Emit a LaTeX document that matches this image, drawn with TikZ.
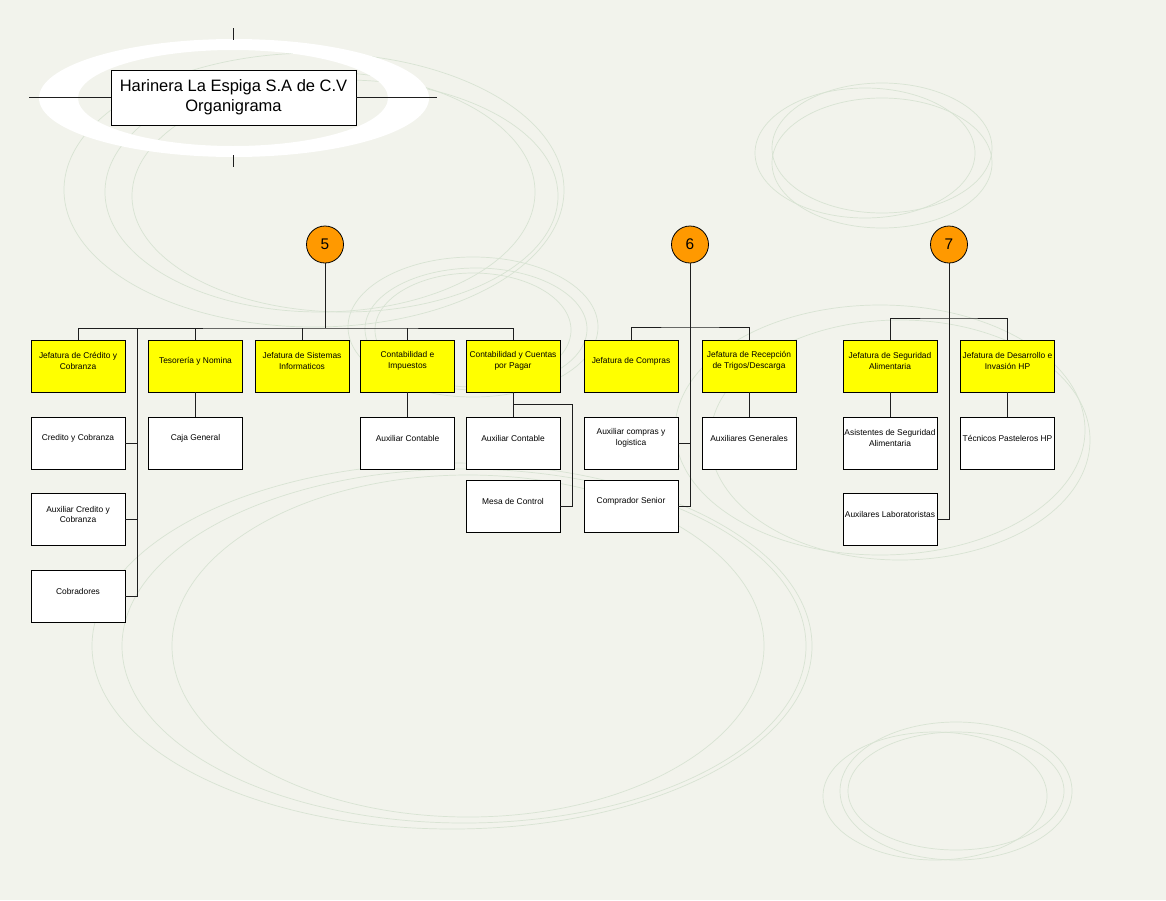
\documentclass[tikz,border=0pt]{standalone}
\usepackage{fontspec}
\setmainfont{Liberation Sans}
\definecolor{bgc}{HTML}{F2F3EC}
\definecolor{ringc}{HTML}{D8E3D3}
\definecolor{jefec}{HTML}{FFFF00}
\definecolor{numc}{HTML}{FF9900}
\definecolor{connc}{HTML}{1E1E1E}
\begin{document}
\begin{tikzpicture}[x=1pt,y=-1pt,
  box/.style={draw=black, line width=0.8pt, minimum width=94pt, minimum height=52pt, inner sep=0pt, fill=white},
  jefe/.style={box, fill=jefec},
  txt/.style={font=\fontsize{8.4}{10.6}\selectfont, align=center, inner sep=0pt, yshift=5pt},
  num/.style={circle, draw=black, line width=0.8pt, fill=numc, minimum size=37pt, inner sep=0pt, font=\fontsize{15.4}{18}\selectfont},
  conn/.style={draw=connc, line width=0.8pt},
  bgl/.style={draw=ringc, line width=0.7pt}]
\fill[bgc] (0,0) rectangle (1166,900);
\useasboundingbox (0,0) rectangle (1166,900);
% background ellipses
\draw[bgl] (314,190) ellipse [x radius=250pt, y radius=137pt];
\draw[bgl] (320,192) ellipse [x radius=215pt, y radius=120pt];
\draw[bgl] (345,196) ellipse [x radius=213pt, y radius=116pt];
\draw[bgl] (473,327) ellipse [x radius=125pt, y radius=70pt];
\draw[bgl] (476,329) ellipse [x radius=111pt, y radius=61pt];
\draw[bgl] (473,330) ellipse [x radius=98pt, y radius=57pt];
\draw[bgl] (865,153) ellipse [x radius=110pt, y radius=65pt];
\draw[bgl] (882,148) ellipse [x radius=110pt, y radius=65pt];
\draw[bgl] (882,163) ellipse [x radius=110pt, y radius=65pt];
\draw[bgl] (452,646) ellipse [x radius=360pt, y radius=183pt];
\draw[bgl] (464,646) ellipse [x radius=342pt, y radius=177pt];
\draw[bgl] (468,646) ellipse [x radius=296pt, y radius=171pt];
\draw[bgl] (880,430) ellipse [x radius=205pt, y radius=125pt];
\draw[bgl] (900,440) ellipse [x radius=190pt, y radius=120pt];
\draw[bgl] (935,796) ellipse [x radius=112pt, y radius=64pt];
\draw[bgl] (956,791) ellipse [x radius=116pt, y radius=69pt];
\draw[bgl] (956,791) ellipse [x radius=108pt, y radius=59pt];
% white ring behind title
\fill[white, even odd rule] (234,98) ellipse [x radius=195pt, y radius=59pt] (233,98) ellipse [x radius=155pt, y radius=48pt];
% title
\node[draw=black, line width=0.8pt, fill=white, minimum width=245pt, minimum height=55pt, inner sep=0pt,
  font=\fontsize{16.5}{20}\selectfont, align=center] (title) at (233.5,97.5) {Harinera La Espiga S.A de C.V\\Organigrama};
\coordinate (tl) at (29,97.5);
\coordinate (tr) at (437,97.5);
\coordinate (tt1) at (233.5,28);
\coordinate (tt2) at (233.5,40);
\coordinate (tb1) at (233.5,155);
\coordinate (tb2) at (233.5,167);
\draw[conn] (tl) -- (title.west);
\draw[conn] (title.east) -- (tr);
\draw[conn] (tt1) -- (tt2);
\draw[conn] (tb1) -- (tb2);
% number circles
\node[num] (n5) at (325,244.5) {5};
\node[num] (n6) at (690,244.5) {6};
\node[num] (n7) at (949,244.5) {7};
% group 5
\node[jefe, label={[txt]center:{Jefatura de Crédito y\\Cobranza}}] (j1) at (78,366) {};
\node[jefe, label={[txt]center:{Tesorería y Nomina}}] (j2) at (195.5,366) {};
\node[jefe, label={[txt]center:{Jefatura de Sistemas\\Informaticos}}] (j3) at (302,366) {};
\node[jefe, label={[txt]center:{Contabilidad e\\Impuestos}}] (j4) at (407.5,366) {};
\node[jefe, label={[txt]center:{Contabilidad y Cuentas\\por Pagar}}] (j5) at (513,366) {};
\node[box, label={[txt]center:{Credito y Cobranza}}] (cyc) at (78,443) {};
\node[box, label={[txt]center:{Auxiliar Credito y\\Cobranza}}] (acc) at (78,519.5) {};
\node[box, label={[txt]center:{Cobradores}}] (cob) at (78,596) {};
\node[box, label={[txt]center:{Caja General}}] (cg) at (195.5,443) {};
\node[box, label={[txt]center:{Auxiliar Contable}}] (ac1) at (407.5,443) {};
\node[box, label={[txt]center:{Auxiliar Contable}}] (ac2) at (513,443) {};
\node[box, label={[txt]center:{Mesa de Control}}] (mc) at (513,506.5) {};
% group 6
\node[jefe, label={[txt]center:{Jefatura de Compras}}] (j6) at (631,366) {};
\node[jefe, label={[txt]center:{Jefatura de Recepción\\de Trigos/Descarga}}] (j7) at (749,366) {};
\node[box, label={[txt]center:{Auxiliar compras y\\logistica}}] (acl) at (631,443) {};
\node[box, label={[txt]center:{Comprador Senior}}] (cs) at (631,506.5) {};
\node[box, label={[txt]center:{Auxiliares Generales}}] (ag) at (749,443) {};
% group 7
\node[jefe, label={[txt]center:{Jefatura de Seguridad\\Alimentaria}}] (j8) at (890,366) {};
\node[jefe, label={[txt]center:{Jefatura de Desarrollo e\\Invasión HP}}] (j9) at (1007.5,366) {};
\node[box, label={[txt]center:{Asistentes de Seguridad\\Alimentaria}}] (as) at (890,443) {};
\node[box, label={[txt]center:{Técnicos Pasteleros HP}}] (tp) at (1007.5,443) {};
\node[box, label={[txt]center:{Auxilares Laboratoristas}}] (al) at (890,519.5) {};
% connectors group 5
\coordinate (b5) at (325,328);
\draw[conn] (n5) -- (b5);
\draw[conn] (j1.north) |- (b5) -| (j5.north);
\draw[conn] (j2.north) -- (j2.north |- b5);
\draw[conn] (j3.north) -- (j3.north |- b5);
\draw[conn] (j4.north) -- (j4.north |- b5);
\coordinate (cb) at (137,328);
\draw[conn] (cb) |- (cob.east);
\draw[conn] (cyc.east) -- (cyc.east -| cb);
\draw[conn] (acc.east) -- (acc.east -| cb);
\draw[conn] (j2.south) -- (cg.north);
\draw[conn] (j4.south) -- (ac1.north);
\draw[conn] (j5.south) -- (ac2.north);
\coordinate (k5) at (513,404);
\coordinate (k5r) at (572,404);
\draw[conn] (k5) -- (k5r) |- (mc.east);
% connectors group 6
\coordinate (b6) at (690,327);
\draw[conn] (j6.north) |- (b6) -| (j7.north);
\draw[conn] (n6) |- (cs.east);
\draw[conn] (acl.east) -- (acl.east -| b6);
\draw[conn] (j7.south) -- (ag.north);
% connectors group 7
\coordinate (b7) at (949,318);
\draw[conn] (j8.north) |- (b7) -| (j9.north);
\draw[conn] (n7) |- (al.east);
\draw[conn] (j8.south) -- (as.north);
\draw[conn] (j9.south) -- (tp.north);
\end{tikzpicture}
\end{document}
